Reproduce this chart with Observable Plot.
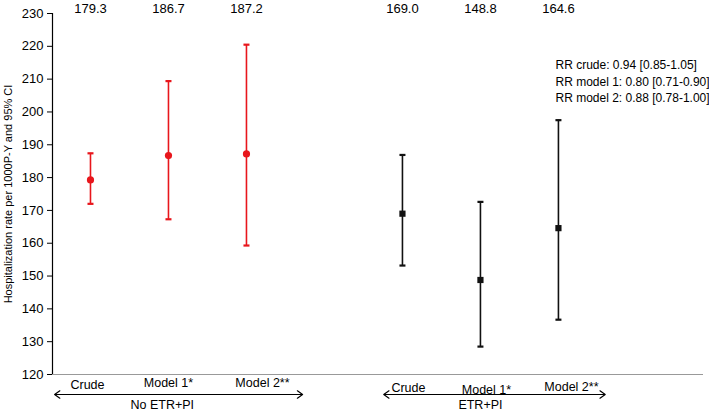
<!DOCTYPE html>
<html>
<head>
<meta charset="utf-8">
<script src="https://cdn.jsdelivr.net/npm/d3@7"></script>
<script src="https://cdn.jsdelivr.net/npm/@observablehq/plot@0.6"></script>
<style>
  html, body { margin: 0; padding: 0; background: #fff; }
  svg { font-family: "Liberation Sans", Arial, sans-serif; }
</style>
</head>
<body>
<div id="chart"></div>
<script>
// ---- data ----
const groups = ["No ETR+PI", "ETR+PI"];
const models = ["Crude", "Model 1*", "Model 2**"];
const rateNo = [179.3, 186.7, 187.2];
const lowNo = [172.0, 167.3, 159.3];
const highNo = [187.4, 209.4, 220.5];
const rateEtr = [169.0, 148.8, 164.6];
const lowEtr = [153.2, 128.5, 136.7];
const highEtr = [186.9, 172.6, 197.5];
const rrLines = [
  "RR crude: 0.94 [0.85-1.05]",
  "RR model 1: 0.80 [0.71-0.90]",
  "RR model 2: 0.88 [0.78-1.00]"
];
const yTicks = [120, 130, 140, 150, 160, 170, 180, 190, 200, 210, 220, 230];

// ---- build table ----
const colors = {"No ETR+PI": "#e8161c", "ETR+PI": "#111111"};
const rows = [];
[[rateNo, lowNo, highNo], [rateEtr, lowEtr, highEtr]].forEach(([r, lo, hi], g) => {
  models.forEach((m, i) => {
    rows.push({group: groups[g], model: m, pos: g * 4 + i, rate: r[i], low: lo[i], high: hi[i]});
  });
});
const spans = groups.map((g, k) => {
  const ps = rows.filter(d => d.group === g).map(d => d.pos);
  const lo = d3.min(ps), hi = d3.max(ps);
  return {group: g, start: lo - (k === 0 ? 0.46 : 0.24), end: hi + (k === 0 ? 0.72 : 0.6), mid: (lo + hi) / 2 - (k === 0 ? 0.08 : 0)};
});
const arrowHalves = spans.flatMap(s => [
  {from: (s.start + s.end) / 2, to: s.start},
  {from: (s.start + s.end) / 2, to: s.end}
]);
const capSymbol = {
  draw(ctx, size) {
    const r = Math.sqrt(size / Math.PI);
    ctx.moveTo(-r, 0); ctx.lineTo(r, 0);
  }
};
const sel = (g, m) => rows.filter(d => d.group === g && d.model === m);
const catLabel = (g, m, dx, dy) =>
  Plot.text(sel(g, m), {x: "pos", y: 120, text: "model", dx, dy, fontSize: 12.5, fill: "#000"});

const chart = Plot.plot({
  width: 709,
  height: 410,
  marginLeft: 52,
  marginRight: 6,
  marginTop: 13,
  marginBottom: 36,
  style: {fontFamily: "'Liberation Sans', Arial, sans-serif", fontSize: "13px", background: "#fff"},
  x: {type: "linear", domain: [-0.487, 7.86], axis: null},
  y: {domain: [120, 230], axis: null},
  marks: [
    Plot.ruleY([120], {stroke: "#999", strokeWidth: 1.2}),
    Plot.axisY({ticks: yTicks, tickSize: 5, tickPadding: 4, fontSize: 13, stroke: "#000", color: "#000", label: null}),
    Plot.ruleX([-0.487], {y1: 120, y2: 230, stroke: "#000", strokeWidth: 1.2}),
    Plot.text(["Hospitalization rate per 1000P-Y and 95% CI"], {frameAnchor: "left", textAnchor: "middle", rotate: -90, dx: -44, fontSize: 11, fill: "#000"}),
    // error bars
    Plot.ruleX(rows, {x: "pos", y1: "low", y2: "high", stroke: d => colors[d.group], strokeWidth: 1.6}),
    Plot.dot(rows, {x: "pos", y: "low", symbol: capSymbol, r: 3, stroke: d => colors[d.group], strokeWidth: 2.2}),
    Plot.dot(rows, {x: "pos", y: "high", symbol: capSymbol, r: 3, stroke: d => colors[d.group], strokeWidth: 2.2}),
    Plot.dot(rows.filter(d => d.group === "No ETR+PI"), {x: "pos", y: "rate", r: 3.6, fill: colors["No ETR+PI"], stroke: "none"}),
    Plot.dot(rows.filter(d => d.group === "ETR+PI"), {x: "pos", y: "rate", symbol: "square", r: 3.5, fill: colors["ETR+PI"], stroke: "none"}),
    // top value labels
    Plot.text(rows, {x: "pos", text: d => d.rate.toFixed(1), frameAnchor: "top", lineAnchor: "middle", dy: -5, fontSize: 13, fill: "#000"}),
    // RR annotations
    Plot.text([rrLines.join("\n")], {frameAnchor: "top-right", textAnchor: "start", lineAnchor: "top", lineHeight: 1.38, dx: -148, dy: 44, fontSize: 12, fill: "#000"}),
    // category labels below axis
    catLabel("No ETR+PI", "Crude", -3, 10),
    catLabel("No ETR+PI", "Model 1*", 0, 8),
    catLabel("No ETR+PI", "Model 2**", 16, 8),
    catLabel("ETR+PI", "Crude", 6, 13),
    catLabel("ETR+PI", "Model 1*", 6, 15),
    catLabel("ETR+PI", "Model 2**", 13, 12),
    Plot.arrow(arrowHalves, {x1: "from", x2: "to", y1: 120, y2: 120, dy: 20, stroke: "#000", strokeWidth: 1.2, headLength: 8, headAngle: 70, bend: 0}),
    Plot.text(spans, {x: "mid", y: 120, text: "group", dy: 30, fontSize: 12.5, fill: "#000"})
  ]
});
document.getElementById("chart").appendChild(chart);
</script>
</body>
</html>
